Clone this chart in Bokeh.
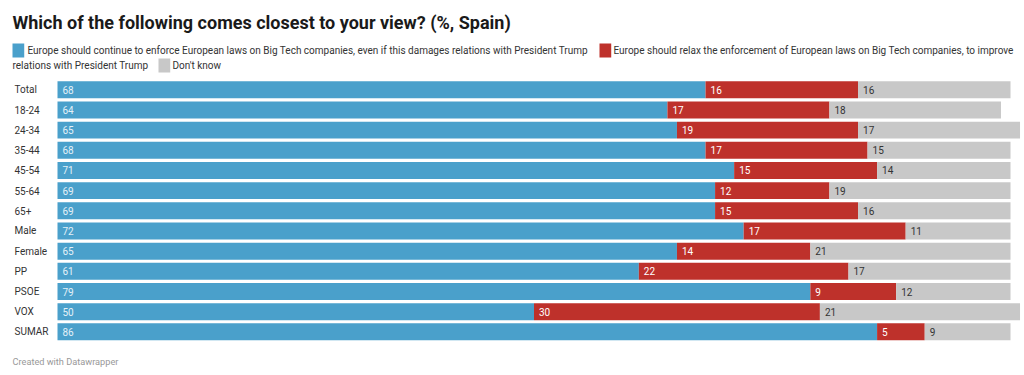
from bokeh.plotting import figure
from bokeh.models import ColumnDataSource, Range1d, Label
from bokeh.core.properties import value
from bokeh.embed import file_html
from bokeh.resources import INLINE

categories = ["Total", "18-24", "24-34", "35-44", "45-54", "55-64", "65+",
              "Male", "Female", "PP", "PSOE", "VOX", "SUMAR"]
enforce = [68, 64, 65, 68, 71, 69, 69, 72, 65, 61, 79, 50, 86]
relax = [16, 17, 19, 17, 15, 12, 15, 17, 14, 22, 9, 30, 5]
dont_know = [16, 18, 17, 15, 14, 19, 16, 11, 21, 17, 12, 21, 9]

series_names = [
    "Europe should continue to enforce European laws on Big Tech companies, even if this damages relations with President Trump",
    "Europe should relax the enforcement of European laws on Big Tech companies, to improve",
    "relations with President Trump",
    "Don't know",
]
title_text = "Which of the following comes closest to your view? (%, Spain)"
footer_text = "Created with Datawrapper"

BLUE = "#4aa0cb"
RED = "#be312b"
GRAY = "#c8c8c8"
FONT = "Roboto"
SMALL = "10px"

W, H = 1022, 374
ROW0 = 89.3      # px, centre of first row
PITCH = 20.17    # px per row
PX_PER_UNIT = 9.53
X0 = 57          # px where 0% sits

p = figure(width=W, height=H, output_backend="svg", toolbar_location=None,
           x_range=Range1d(-X0 / PX_PER_UNIT, (W - X0) / PX_PER_UNIT),
           y_range=Range1d((H - ROW0) / PITCH, -ROW0 / PITCH),
           x_axis_location=None, y_axis_location=None,
           min_border_left=0, min_border_right=0,
           min_border_top=0, min_border_bottom=0)
p.grid.visible = False
p.outline_line_color = None
p.background_fill_color = "white"
p.border_fill_color = "white"

idx = list(range(len(categories)))
b_left = [0] * len(categories)
b_right = enforce
r_left = enforce
r_right = [a + b for a, b in zip(enforce, relax)]
g_left = r_right
g_right = [a + b for a, b in zip(r_right, dont_know)]

src = ColumnDataSource(dict(cat=categories, y=idx, bl=b_left, br=b_right, rl=r_left, rr=r_right,
                            gl=g_left, gr=g_right,
                            bt=[str(v) for v in enforce], rt=[str(v) for v in relax],
                            gt=[str(v) for v in dont_know],
                            lx=[(14 - X0) / PX_PER_UNIT] * len(categories)))

BH = 0.84
p.hbar(y="y", left="bl", right="br", height=BH, fill_color=BLUE, line_color=None, source=src)
p.hbar(y="y", left="rl", right="rr", height=BH, fill_color=RED, line_color=None, source=src)
p.hbar(y="y", left="gl", right="gr", height=BH, fill_color=GRAY, line_color=None, source=src)

common = dict(text_font=value(FONT), text_font_size=SMALL, text_baseline="middle",
              text_align="left", x_offset=5, source=src)
p.text(x="bl", y="y", text="bt", text_color="#e4f1f8", **common)
p.text(x="rl", y="y", text="rt", text_color="#ffffff", **common)
p.text(x="gl", y="y", text="gt", text_color="#333333", **common)
p.text(x="lx", y="y", text="cat", text_color="#333333", text_font=value(FONT),
       text_font_size=SMALL, text_baseline="middle", text_align="left", source=src)


def lab(text, px, py, size=SMALL, color="#333333", bold=False, bg=None):
    # px, py: picture coordinates (middle of text); screen units: frame-relative, bottom origin
    kw = dict(x=px, y=H - py, x_units="screen", y_units="screen", text=text,
              text_font=FONT, text_font_size=size, text_color=color,
              text_baseline="middle", text_align="left",
              text_font_style="bold" if bold else "normal")
    if bg is not None:
        kw.update(background_fill_color=bg)
    p.add_layout(Label(**kw))


lab(title_text, 12, 22, size="18px", color="#1a1a1a", bold=True)
for (sx, sy, col) in [(12, 50, BLUE), (599, 50, RED), (158, 65, GRAY)]:
    lab("\u2003", sx, sy, size="11.5px", bg=col)
lab(series_names[0], 27, 50)
lab(series_names[1], 613, 50)
lab(series_names[2], 12, 65)
lab(series_names[3], 172, 65)
lab(footer_text, 12, 361, size="9.2px", color="#999999")

open("out.html", "w").write(file_html(p, INLINE))
